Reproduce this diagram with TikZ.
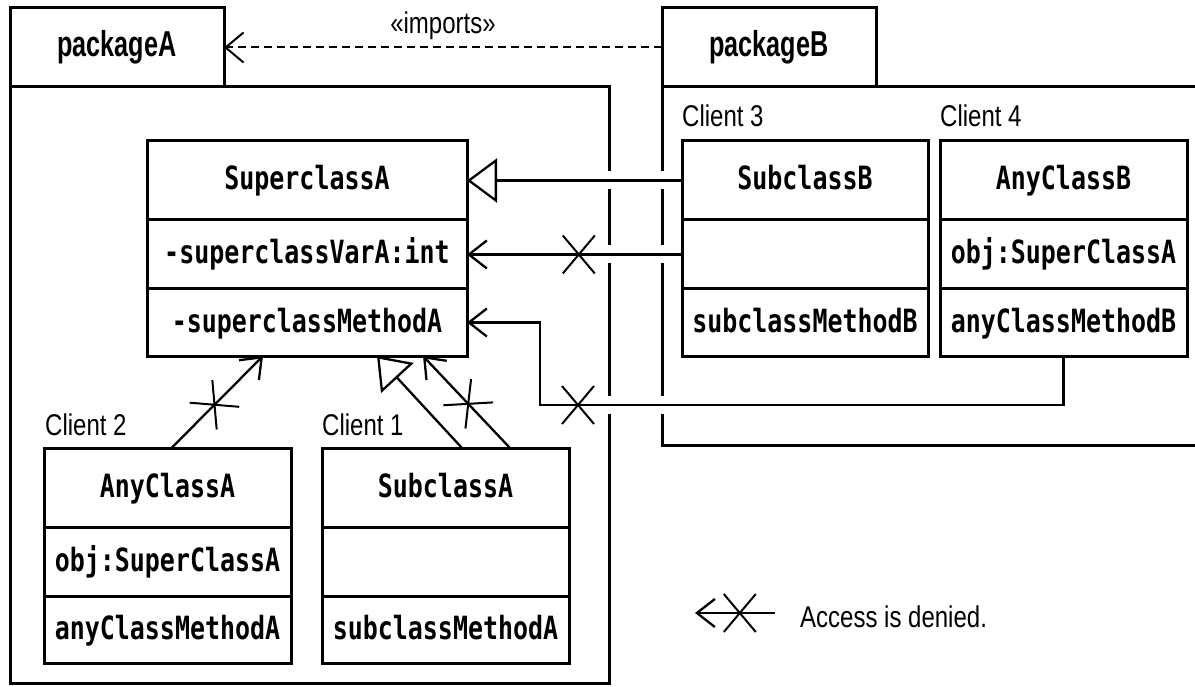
\documentclass[tikz,border=0pt]{standalone}
\usepackage{fontspec}
\usetikzlibrary{arrows.meta,shapes.misc,positioning,calc}
\newfontfamily\classfont[FakeStretch=0.78]{DejaVu Sans Mono Bold}
\newfontfamily\pkgfont[FakeStretch=0.7]{Liberation Sans Bold}
\newfontfamily\lblfont[FakeStretch=0.8]{Liberation Sans}
\begin{document}
\begin{tikzpicture}[x=1pt,y=-1pt,
  pkgtab/.style={draw, line width=3pt, rectangle, minimum width=214pt, minimum height=79pt,
    inner sep=0pt, outer sep=0pt, anchor=north west, font={\pkgfont\fontsize{36}{40}\selectfont}},
  pkgbody/.style={draw, line width=3pt, rectangle, inner sep=0pt, outer sep=0pt, anchor=north west},
  comp/.style={draw, line width=3pt, rectangle, minimum width=247pt, inner sep=0pt, outer sep=0pt,
    font={\classfont\fontsize{32}{36}\selectfont}, text height=23pt, text depth=4pt},
  cA/.style={minimum height=79pt},
  cB/.style={minimum height=69pt},
  cC/.style={minimum height=67pt},
  lbl/.style={inner sep=0pt, font={\lblfont\fontsize{30}{34}\selectfont}},
  deny/.style={line width=2.3pt, -{Straight Barb[length=18pt,width=28pt,line width=2.3pt]}},
  gen/.style={line width=2.3pt, -{Triangle[open,length=30pt,width=44pt,line width=2.3pt]}},
  imports/.style={line width=2pt, dash pattern=on 8pt off 5pt,
    -{Straight Barb[length=18pt,width=30pt,line width=2pt]}},
  denyx/.style={cross out, draw, line width=2pt, minimum width=32pt, minimum height=38pt,
    inner sep=0pt, outer sep=0pt, sloped},
  gap/.style={fill=white}
]
\useasboundingbox (0,0) rectangle (1195,687);
\clip (0,0) rectangle (1195,687);

% packages
\node[pkgtab] (tabA) at (10,8) {packageA};
\node[pkgbody, minimum width=599pt, minimum height=596pt] (pkgA) at (10,87) {};
\node[pkgtab] (tabB) at (662,8) {packageB};
\node[pkgbody, minimum width=560pt, minimum height=358pt] (pkgB) at (662,87) {};

% SuperclassA
\node[comp, cA, minimum width=320pt, anchor=north west] (supA1) at (147,141) {SuperclassA};
\node[comp, cB, minimum width=320pt, below=0pt of supA1] (supA2) {-superclassVarA:int};
\node[comp, cC, minimum width=320pt, below=0pt of supA2] (supA3) {-superclassMethodA};

% SubclassB
\node[comp, cA, minimum width=246pt, anchor=north west] (subB1) at (682,141) {SubclassB};
\node[comp, cB, minimum width=246pt, below=0pt of subB1] (subB2) {};
\node[comp, cC, minimum width=246pt, below=0pt of subB2] (subB3) {subclassMethodB};

% AnyClassB
\node[comp, cA, anchor=north west] (anyB1) at (940,141) {AnyClassB};
\node[comp, cB, below=0pt of anyB1] (anyB2) {obj:SuperClassA};
\node[comp, cC, below=0pt of anyB2] (anyB3) {anyClassMethodB};

% AnyClassA
\node[comp, cA, anchor=north west] (anyA1) at (44,448) {AnyClassA};
\node[comp, cB, below=0pt of anyA1] (anyA2) {obj:SuperClassA};
\node[comp, cC, below=0pt of anyA2] (anyA3) {anyClassMethodA};

% SubclassA
\node[comp, cA, anchor=north west] (subA1) at (322,448) {SubclassA};
\node[comp, cB, below=0pt of subA1] (subA2) {};
\node[comp, cC, below=0pt of subA2] (subA3) {subclassMethodA};

% client labels
\node[lbl, anchor=base west] (cl3) at (682,127) {Client 3};
\node[lbl, anchor=base west] (cl4) at (940,127) {Client 4};
\node[lbl, anchor=base west] (cl2) at (45,435) {Client 2};
\node[lbl, anchor=base west] (cl1) at (322,435) {Client 1};

% gaps in package borders where connectors cross
\coordinate (bend) at (540,405);
\foreach \p in {supA1.east, supA2.east, bend} {
  \fill[gap] ($(pkgA.east |- \p)+(-4,-9)$) rectangle ++(8,18);
  \fill[gap] ($(pkgB.west |- \p)+(-4,-9)$) rectangle ++(8,18);
}

% imports dependency
\draw[imports] (tabB.west) -- node[lbl, midway, yshift=22pt] {«imports»} (tabA.east);

% connectors from packageB
\draw[gen] (subB1.west) -- (supA1.east);
\draw[deny] (subB2.west) -- node[denyx, pos=0.48] {} (supA2.east);
\draw[deny] (anyB3.south) |- (bend) |- (supA3.east);
\node[denyx] (xB) at (578,405) {};

% connectors from packageA clients
\draw[deny] ([xshift=4pt]anyA1.north) -- node[denyx, pos=0.47] {} ([xshift=116pt]supA3.south west);
\draw[gen] ([xshift=140pt]subA1.north west) -- ([xshift=230pt]supA3.south west);
\draw[deny] ([xshift=188pt]subA1.north west) -- node[denyx, pos=0.48] {} ([xshift=276pt]supA3.south west);

% legend
\coordinate (legR) at (775,613);
\coordinate (legL) at (695,613);
\draw[deny] (legR) -- node[denyx, pos=0.44] {} (legL);
\node[lbl, anchor=base west] (legT) at (800,627) {Access is denied.};
\end{tikzpicture}
\end{document}
